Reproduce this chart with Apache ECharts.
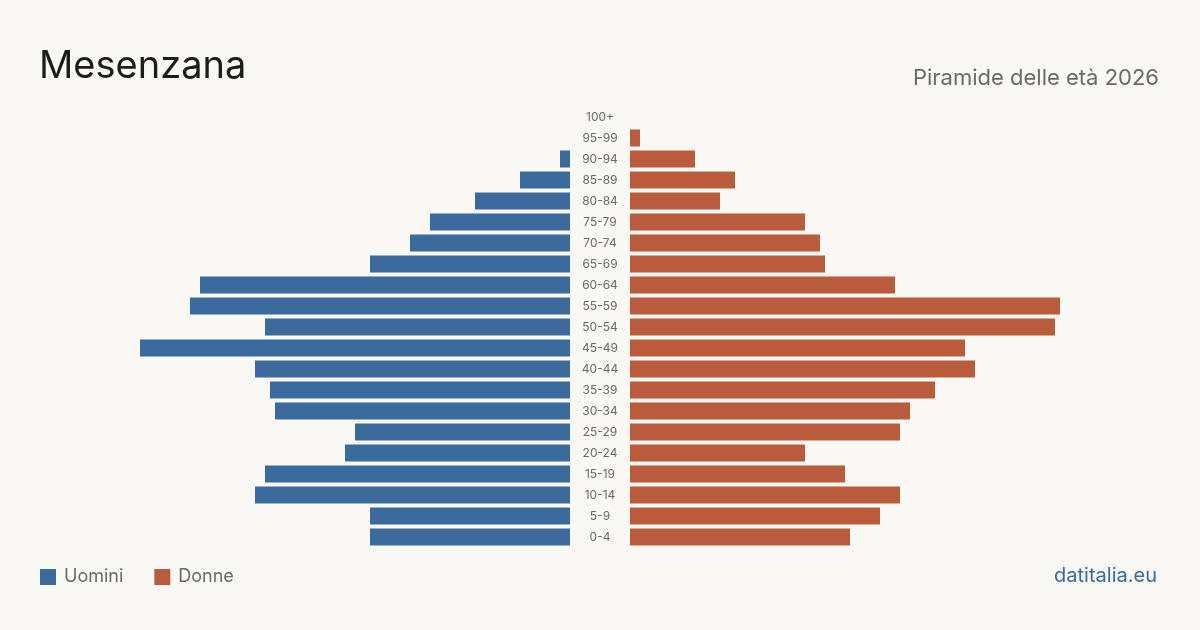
<!DOCTYPE html>
<html>
<head>
<meta charset="utf-8">
<script src="https://cdn.jsdelivr.net/npm/echarts@6/dist/echarts.min.js"></script>
<style>
html,body{margin:0;padding:0;background:#f9f8f4;}
#c{width:1200px;height:630px;}
</style>
</head>
<body>
<div id="c"></div>
<script>
const ageGroups = ['0-4','5-9','10-14','15-19','20-24','25-29','30-34','35-39','40-44','45-49','50-54','55-59','60-64','65-69','70-74','75-79','80-84','85-89','90-94','95-99','100+'];
const uomini = [40,40,63,61,45,43,59,60,63,86,61,76,74,40,32,28,19,10,2,0,0];
const donne  = [44,50,54,43,35,54,56,61,69,67,85,86,53,39,38,35,18,21,13,2,0];
const MAXV = 86;
const FONT = 'Inter, "Noto Sans", sans-serif';

const chart = echarts.init(document.getElementById('c'));
chart.setOption({
  backgroundColor: '#f9f8f4',
  animation: false,
  title: [
    {text: 'Mesenzana', left: 34, top: 43, textStyle: {fontFamily: FONT, fontSize: 38, fontWeight: 'normal', color: '#1c1c1c'}},
    {text: 'Piramide delle età 2026', right: 36, top: 62, textStyle: {fontFamily: FONT, fontSize: 22, fontWeight: 'normal', color: '#6a6a6a'}},
    {text: 'datitalia.eu', right: 38, top: 561, textStyle: {fontFamily: FONT, fontSize: 20, fontWeight: 'normal', color: '#3a6b9c'}}
  ],
  legend: {
    left: 35, top: 563, itemWidth: 16, itemHeight: 16, itemGap: 31,
    icon: 'rect',
    textStyle: {fontFamily: FONT, fontSize: 18, color: '#6a6a6a', padding: [0,0,0,3]},
    data: ['Uomini','Donne']
  },
  grid: [
    {left: 140, width: 430, top: 106.5, height: 441},
    {left: 630, width: 430, top: 106.5, height: 441}
  ],
  xAxis: [
    {gridIndex: 0, type: 'value', min: 0, max: MAXV, inverse: true, show: false},
    {gridIndex: 1, type: 'value', min: 0, max: MAXV, show: false}
  ],
  yAxis: [
    {gridIndex: 0, type: 'category', data: ageGroups, show: false},
    {gridIndex: 1, type: 'category', data: ageGroups,
     axisLine: {show: false}, axisTick: {show: false},
     axisLabel: {show: true, margin: 30, align: 'center', fontFamily: FONT, fontSize: 12, color: '#6a6a6a', padding: [2,0,0,0]}}
  ],
  series: [
    {name: 'Uomini', type: 'bar', xAxisIndex: 0, yAxisIndex: 0, data: uomini, barWidth: 17, itemStyle: {color: '#3a6b9c'}},
    {name: 'Donne', type: 'bar', xAxisIndex: 1, yAxisIndex: 1, data: donne, barWidth: 17, itemStyle: {color: '#b95c3c'}}
  ]
});
</script>
</body>
</html>
